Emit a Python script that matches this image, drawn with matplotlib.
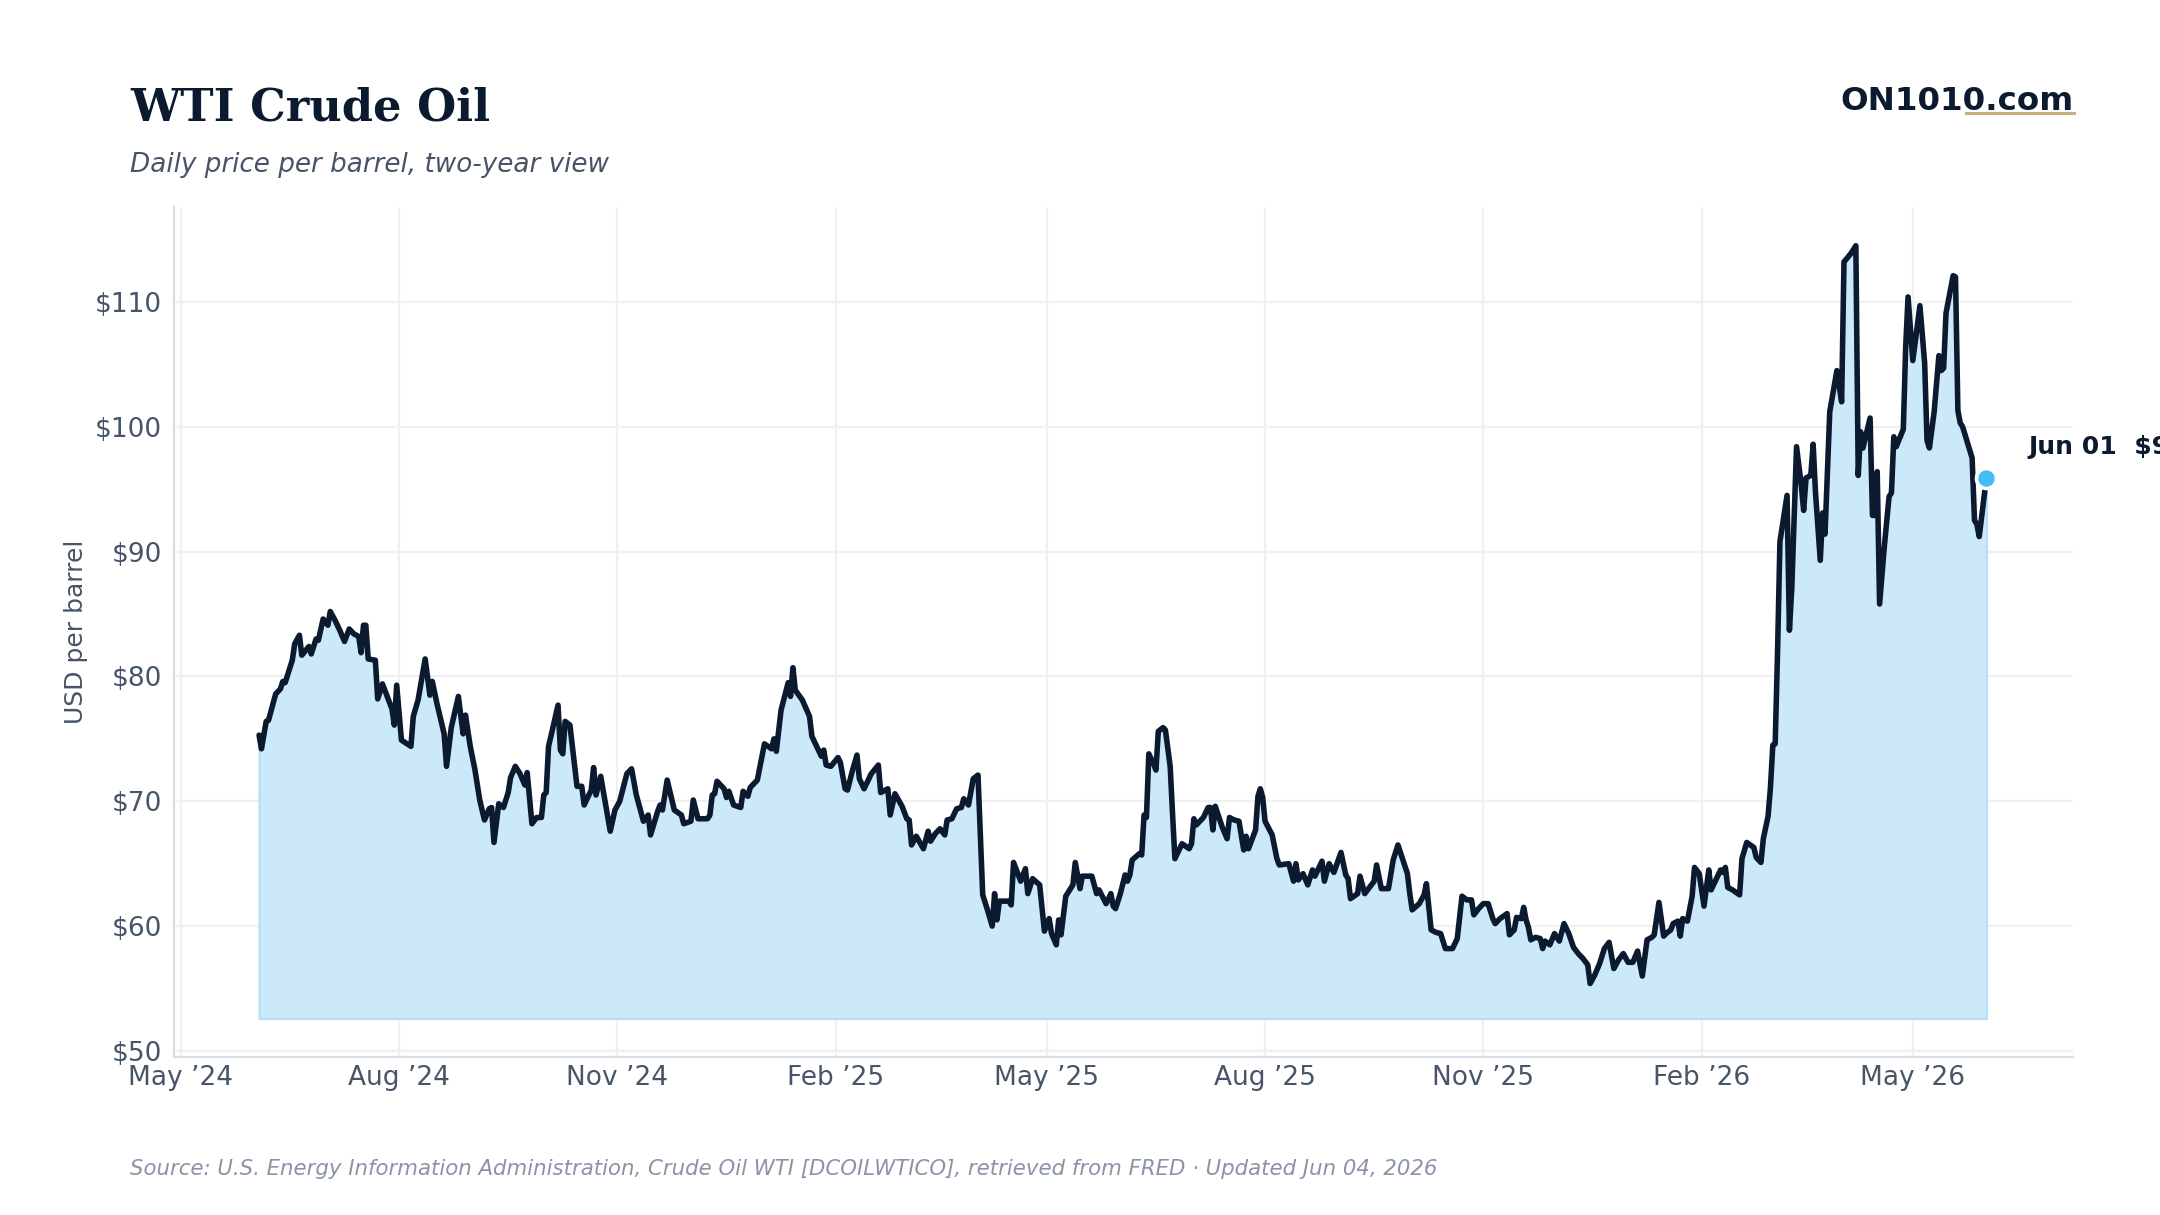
import matplotlib
matplotlib.use("Agg")
import matplotlib.pyplot as plt
from matplotlib.ticker import FuncFormatter
from matplotlib.lines import Line2D
import pandas as pd

# ---- data ----
dates = [
    "2024-06-03", "2024-06-04", "2024-06-06", "2024-06-07", "2024-06-10", "2024-06-12", "2024-06-13", "2024-06-14",
    "2024-06-17", "2024-06-18", "2024-06-20", "2024-06-21", "2024-06-24", "2024-06-25", "2024-06-27", "2024-06-28",
    "2024-06-30", "2024-07-02", "2024-07-03", "2024-07-05", "2024-07-07", "2024-07-09", "2024-07-11", "2024-07-13",
    "2024-07-15", "2024-07-16", "2024-07-17", "2024-07-18", "2024-07-19", "2024-07-22", "2024-07-23", "2024-07-25",
    "2024-07-27", "2024-07-29", "2024-07-30", "2024-07-31", "2024-08-02", "2024-08-06", "2024-08-07", "2024-08-09",
    "2024-08-12", "2024-08-14", "2024-08-15", "2024-08-17", "2024-08-20", "2024-08-21", "2024-08-23", "2024-08-26",
    "2024-08-28", "2024-08-29", "2024-08-31", "2024-09-02", "2024-09-04", "2024-09-06", "2024-09-08", "2024-09-09",
    "2024-09-10", "2024-09-12", "2024-09-14", "2024-09-16", "2024-09-17", "2024-09-19", "2024-09-21", "2024-09-23",
    "2024-09-24", "2024-09-26", "2024-09-28", "2024-09-30",
    "2024-10-01", "2024-10-02", "2024-10-03", "2024-10-04", "2024-10-07", "2024-10-08", "2024-10-09", "2024-10-10",
    "2024-10-12", "2024-10-15", "2024-10-17", "2024-10-18", "2024-10-21", "2024-10-22", "2024-10-23", "2024-10-25",
    "2024-10-29", "2024-10-31", "2024-11-02", "2024-11-05", "2024-11-07", "2024-11-09", "2024-11-12", "2024-11-14",
    "2024-11-15", "2024-11-18", "2024-11-19", "2024-11-20", "2024-11-22", "2024-11-25", "2024-11-28", "2024-11-29",
    "2024-12-02", "2024-12-03", "2024-12-05", "2024-12-09", "2024-12-10", "2024-12-11", "2024-12-12", "2024-12-13",
    "2024-12-16", "2024-12-17", "2024-12-18", "2024-12-20", "2024-12-23", "2024-12-24", "2024-12-26", "2024-12-27",
    "2024-12-30", "2025-01-02", "2025-01-05", "2025-01-06", "2025-01-07", "2025-01-09", "2025-01-12", "2025-01-13",
    "2025-01-14", "2025-01-15", "2025-01-18", "2025-01-21", "2025-01-22", "2025-01-23", "2025-01-26", "2025-01-27",
    "2025-01-28",
    "2025-01-30", "2025-02-02", "2025-02-03", "2025-02-05", "2025-02-06", "2025-02-08", "2025-02-10", "2025-02-11",
    "2025-02-13", "2025-02-16", "2025-02-19", "2025-02-20", "2025-02-23", "2025-02-24", "2025-02-26", "2025-03-01",
    "2025-03-03", "2025-03-04", "2025-03-05", "2025-03-07", "2025-03-10", "2025-03-12", "2025-03-13", "2025-03-15",
    "2025-03-17", "2025-03-19", "2025-03-20", "2025-03-22", "2025-03-24", "2025-03-26", "2025-03-27", "2025-03-29",
    "2025-03-31", "2025-04-02", "2025-04-04", "2025-04-06", "2025-04-08", "2025-04-09", "2025-04-10", "2025-04-11",
    "2025-04-15", "2025-04-16", "2025-04-17", "2025-04-20", "2025-04-22", "2025-04-23", "2025-04-25", "2025-04-28",
    "2025-04-30", "2025-05-02", "2025-05-03", "2025-05-05", "2025-05-06", "2025-05-07", "2025-05-09", "2025-05-12",
    "2025-05-13", "2025-05-15", "2025-05-16", "2025-05-20", "2025-05-22", "2025-05-23", "2025-05-26",
    "2025-05-28", "2025-05-29", "2025-05-30", "2025-06-01", "2025-06-03", "2025-06-04", "2025-06-05", "2025-06-06",
    "2025-06-09", "2025-06-10", "2025-06-11", "2025-06-12", "2025-06-13", "2025-06-15", "2025-06-16", "2025-06-17",
    "2025-06-19", "2025-06-20", "2025-06-22", "2025-06-23", "2025-06-24", "2025-06-27", "2025-06-30", "2025-07-01",
    "2025-07-02", "2025-07-03", "2025-07-06", "2025-07-08", "2025-07-09", "2025-07-10", "2025-07-11", "2025-07-14",
    "2025-07-16", "2025-07-17", "2025-07-19", "2025-07-21", "2025-07-23", "2025-07-24", "2025-07-25", "2025-07-28",
    "2025-07-29", "2025-07-30", "2025-07-31", "2025-08-01", "2025-08-04", "2025-08-06", "2025-08-07", "2025-08-11",
    "2025-08-13", "2025-08-14", "2025-08-15", "2025-08-17", "2025-08-19", "2025-08-21", "2025-08-22", "2025-08-25",
    "2025-08-26", "2025-08-28", "2025-08-30", "2025-09-02", "2025-09-04", "2025-09-05", "2025-09-06", "2025-09-09",
    "2025-09-10", "2025-09-12", "2025-09-16", "2025-09-17", "2025-09-19", "2025-09-22", "2025-09-24",
    "2025-09-26", "2025-09-30", "2025-10-01", "2025-10-02", "2025-10-05", "2025-10-07", "2025-10-08", "2025-10-10",
    "2025-10-12", "2025-10-14", "2025-10-16", "2025-10-19", "2025-10-21", "2025-10-23", "2025-10-25", "2025-10-27",
    "2025-10-28", "2025-10-30", "2025-11-01", "2025-11-03", "2025-11-05", "2025-11-06", "2025-11-08", "2025-11-11",
    "2025-11-12", "2025-11-14", "2025-11-15", "2025-11-17", "2025-11-18", "2025-11-19", "2025-11-20", "2025-11-21",
    "2025-11-23", "2025-11-25", "2025-11-26", "2025-11-27", "2025-11-29", "2025-12-01", "2025-12-03", "2025-12-05",
    "2025-12-07", "2025-12-09", "2025-12-11", "2025-12-13", "2025-12-15", "2025-12-16", "2025-12-18", "2025-12-20",
    "2025-12-22", "2025-12-24", "2025-12-26", "2025-12-28", "2025-12-30", "2026-01-01", "2026-01-03", "2026-01-05",
    "2026-01-07", "2026-01-09", "2026-01-11", "2026-01-12", "2026-01-14", "2026-01-16", "2026-01-17", "2026-01-19",
    "2026-01-20", "2026-01-22", "2026-01-23", "2026-01-24", "2026-01-26", "2026-01-27", "2026-01-28", "2026-01-29",
    "2026-01-31",
    "2026-02-02", "2026-02-04", "2026-02-05", "2026-02-07", "2026-02-09", "2026-02-10", "2026-02-11", "2026-02-12",
    "2026-02-14", "2026-02-17", "2026-02-18", "2026-02-20", "2026-02-23", "2026-02-24", "2026-02-26", "2026-02-27",
    "2026-03-01", "2026-03-02", "2026-03-03", "2026-03-04", "2026-03-05", "2026-03-06", "2026-03-09", "2026-03-10",
    "2026-03-11", "2026-03-13", "2026-03-15", "2026-03-16", "2026-03-17", "2026-03-19", "2026-03-20", "2026-03-21",
    "2026-03-23", "2026-03-24", "2026-03-25", "2026-03-27", "2026-03-30", "2026-04-01", "2026-04-02",
    "2026-04-05", "2026-04-07", "2026-04-08", "2026-04-09", "2026-04-10", "2026-04-13", "2026-04-14", "2026-04-15",
    "2026-04-16", "2026-04-17", "2026-04-19", "2026-04-21", "2026-04-22", "2026-04-23", "2026-04-24", "2026-04-27",
    "2026-04-28", "2026-04-29", "2026-05-01", "2026-05-04", "2026-05-06", "2026-05-07", "2026-05-08", "2026-05-10",
    "2026-05-12", "2026-05-13", "2026-05-14", "2026-05-15", "2026-05-18", "2026-05-19", "2026-05-20", "2026-05-21",
    "2026-05-22", "2026-05-26", "2026-05-27", "2026-05-28", "2026-05-29", "2026-06-01",
]

prices = [
    75.3, 74.2, 76.4, 76.5, 78.6, 79.0, 79.6, 79.5,
    81.3, 82.6, 83.3, 81.7, 82.4, 81.8, 83.0, 82.9,
    84.6, 84.1, 85.2, 84.5, 83.7, 82.8, 83.8, 83.4,
    83.2, 81.9, 84.1, 84.1, 81.4, 81.3, 78.2, 79.4,
    78.4, 77.4, 76.1, 79.3, 74.9, 74.4, 76.8, 78.1,
    81.4, 78.5, 79.6, 77.8, 75.4, 72.8, 75.9, 78.4,
    75.4, 76.9, 74.4, 72.5, 70.1, 68.5, 69.4, 69.5,
    66.7, 69.8, 69.5, 70.7, 71.9, 72.8, 72.2, 71.3,
    72.3, 68.2, 68.7, 68.7,
    70.5, 70.7, 74.4, 75.2, 77.7, 74.1, 73.8, 76.4,
    76.1, 71.2, 71.2, 69.7, 70.9, 72.7, 70.5, 72.0,
    67.6, 69.3, 70.0, 72.2, 72.6, 70.5, 68.4, 68.9,
    67.3, 69.2, 69.7, 69.3, 71.7, 69.3, 68.9, 68.2,
    68.4, 70.1, 68.6, 68.6, 68.9, 70.5, 70.6, 71.6,
    71.0, 70.3, 70.8, 69.7, 69.5, 70.8, 70.4, 71.1,
    71.7, 74.6, 74.2, 75.0, 74.0, 77.3, 79.5, 78.4,
    80.7, 78.9, 78.1, 76.8, 75.2, 74.8, 73.6, 74.1,
    72.9,
    72.8, 73.5, 73.1, 71.0, 70.9, 72.4, 73.7, 71.8,
    71.0, 72.2, 72.9, 70.7, 71.0, 68.9, 70.6, 69.6,
    68.6, 68.5, 66.5, 67.2, 66.2, 67.6, 66.8, 67.4,
    67.8, 67.3, 68.5, 68.6, 69.4, 69.5, 70.2, 69.7,
    71.8, 72.1, 62.5, 61.3, 60.0, 62.6, 60.5, 62.0,
    62.0, 61.7, 65.1, 63.6, 64.6, 62.6, 63.8, 63.3,
    59.6, 60.6, 59.4, 58.5, 60.5, 59.3, 62.4, 63.3,
    65.1, 63.0, 64.0, 64.0, 62.6, 62.9, 61.8,
    62.6, 61.6, 61.4, 62.6, 64.1, 63.6, 64.1, 65.3,
    65.8, 65.7, 68.9, 68.7, 73.8, 73.0, 72.5, 75.6,
    75.9, 75.7, 72.8, 69.0, 65.4, 66.6, 66.2, 66.6,
    68.6, 68.1, 68.7, 69.5, 69.5, 67.7, 69.6, 67.9,
    67.0, 68.7, 68.5, 68.4, 66.1, 67.2, 66.2, 67.7,
    70.4, 71.0, 70.3, 68.4, 67.3, 65.4, 64.9, 65.0,
    63.6, 65.0, 63.7, 64.2, 63.3, 64.5, 64.0, 65.2,
    63.6, 65.0, 64.3, 65.9, 64.1, 63.8, 62.2, 62.6,
    64.0, 62.6, 63.6, 64.9, 63.0, 63.0, 65.3,
    66.5, 64.2, 62.6, 61.3, 61.8, 62.5, 63.4, 59.7,
    59.5, 59.4, 58.2, 58.2, 59.0, 62.4, 62.1, 62.1,
    60.9, 61.4, 61.8, 61.8, 60.6, 60.2, 60.6, 61.0,
    59.3, 59.7, 60.7, 60.6, 61.5, 60.5, 59.9, 58.9,
    59.1, 59.0, 58.2, 58.8, 58.5, 59.4, 58.8, 60.2,
    59.4, 58.3, 57.8, 57.4, 56.9, 55.4, 56.1, 57.0,
    58.2, 58.7, 56.6, 57.3, 57.8, 57.1, 57.1, 58.0,
    56.0, 58.9, 59.1, 59.3, 61.9, 59.2, 59.4, 59.7,
    60.2, 60.4, 59.2, 60.6, 60.4, 61.4, 62.4, 64.7,
    64.2,
    61.6, 64.5, 62.9, 63.7, 64.5, 64.3, 64.7, 63.1,
    62.9, 62.5, 65.4, 66.7, 66.3, 65.5, 65.1, 67.0,
    68.8, 71.1, 74.5, 74.6, 82.0, 90.8, 94.5, 83.7,
    87.1, 98.4, 95.3, 93.3, 95.9, 96.1, 98.6, 94.7,
    89.3, 93.1, 91.4, 101.2, 104.5, 102.0, 113.2,
    113.9, 114.5, 96.1, 99.6, 98.3, 100.7, 92.9, 92.9,
    96.4, 85.8, 90.4, 94.4, 94.7, 99.2, 98.4, 99.8,
    106.4, 110.4, 105.3, 109.7, 105.1, 98.9, 98.3, 101.2,
    105.7, 104.5, 104.7, 109.1, 112.1, 112.0, 101.3, 100.3,
    100.0, 97.5, 92.5, 92.2, 91.2, 95.9,
]

y_ticks = [50, 60, 70, 80, 90, 100, 110]
x_tick_dates = ["2024-05-01", "2024-08-01", "2024-11-01", "2025-02-01", "2025-05-01",
                "2025-08-01", "2025-11-01", "2026-02-01", "2026-05-01"]
x_tick_labels = ["May \u201924", "Aug \u201924", "Nov \u201924", "Feb \u201925", "May \u201925",
                 "Aug \u201925", "Nov \u201925", "Feb \u201926", "May \u201926"]
fill_base = 52.6
x_range = ["2024-04-28", "2026-07-07 12:00"]
y_range = [49.55, 117.6]

# ---- style ----
NAVY = "#0b1a2e"
SLATE = "#475569"
GRID = "#eef0f4"
SPINE = "#d9dde4"
FILL = "#cce9fa"
DOT = "#45bdf2"

plt.rcParams["font.family"] = ["DejaVu Sans"]

fig = plt.figure(figsize=(10.8, 6.075), dpi=200)
ax = fig.add_axes([0.0804, 0.1304, 0.8793, 0.6992])

x = pd.to_datetime(dates)
ax.fill_between(x, prices, fill_base, facecolor=FILL, edgecolor="#b2e0f7", linewidth=0.8, zorder=2)
ax.plot(x, prices, color=NAVY, lw=2.0, solid_joinstyle="round", solid_capstyle="round", zorder=3)
ax.plot(x[-1], prices[-1], "o", ms=7.2, mfc=DOT, mec="white", mew=1.3, zorder=4)
ax.annotate(f"{x[-1]:%b %d}  ${prices[-1]:.2f}", (x[-1], prices[-1]), xytext=(15, 8.5),
            textcoords="offset points", fontsize=9, fontweight="bold", color=NAVY,
            va="baseline", ha="left", annotation_clip=False)

ax.set_xlim(pd.to_datetime(x_range[0]), pd.to_datetime(x_range[1]))
ax.set_ylim(*y_range)
ax.set_xticks(pd.to_datetime(x_tick_dates))
ax.set_xticklabels(x_tick_labels)
ax.set_yticks(y_ticks)
ax.yaxis.set_major_formatter(FuncFormatter(lambda v, p: f"${v:.0f}"))

ax.grid(True, color=GRID, lw=0.8, zorder=0)
ax.set_axisbelow(True)
for s in ["top", "right"]:
    ax.spines[s].set_visible(False)
for s in ["left", "bottom"]:
    ax.spines[s].set_color(SPINE)
    ax.spines[s].set_linewidth(0.8)
ax.tick_params(axis="both", length=0, labelsize=9.5, labelcolor=SLATE)
ax.tick_params(axis="y", pad=4.2)
ax.tick_params(axis="x", pad=3)
ax.set_ylabel("USD per barrel", fontsize=9, color=SLATE, labelpad=2.5)

# ---- header / footer ----
fig.text(0.0602, 0.9012, "WTI Crude Oil", fontsize=16.1, fontweight="bold",
         family="DejaVu Serif", color=NAVY, va="baseline", ha="left")
fig.text(0.0602, 0.8587, "Daily price per barrel, two-year view", fontsize=9.45,
         style="italic", color=SLATE, va="baseline", ha="left")
fig.text(0.9598, 0.9095, "ON1010.com", fontsize=11.7, fontweight="bold",
         color=NAVY, va="baseline", ha="right")
fig.add_artist(Line2D([0.9102, 0.9602], [0.9068, 0.9068], transform=fig.transFigure,
                      color="#c9b07f", lw=1.1))
fig.text(0.0602, 0.0329,
         "Source: U.S. Energy Information Administration, Crude Oil WTI [DCOILWTICO], "
         "retrieved from FRED \u00b7 Updated Jun 04, 2026",
         fontsize=7.67, style="italic", color="#8a94a6", va="baseline", ha="left")

fig.savefig("out.png", dpi=200)
